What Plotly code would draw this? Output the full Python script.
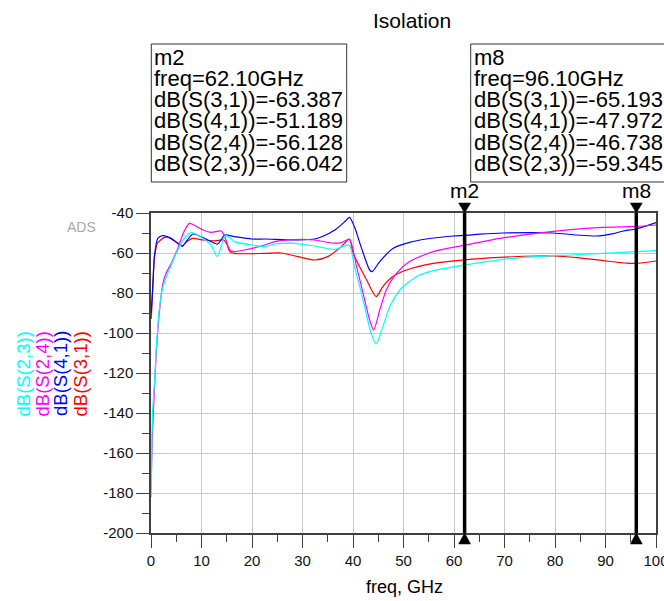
import plotly.graph_objects as go

# ---------------- data ----------------
freq_s31 = [0.05, 0.4, 0.7, 1.3, 2.7, 4.0, 5.3, 6.2, 7.0, 8.3, 10.3, 12.6, 14.4, 15.0, 15.6, 16.5,
            22.5, 25.8, 29.1, 32.4, 35.0, 37.7, 39.3, 40.0, 41.3, 42.7, 44.6, 45.9, 47.9, 50.6,
            55.9, 62.1, 69.1, 76.3, 79.6, 84.3, 89.5, 94.2, 96.1, 100.0]
db_s31 = [-93, -75, -62, -55, -52.2, -52.8, -55, -56.3, -54.5, -52.7, -53.5, -53.9, -53.5, -55.5, -59.3, -60.2,
          -60.2, -60, -61.8, -63.5, -61.8, -56.8, -53, -60, -66.8, -73.5, -81.8, -76.8, -71.8, -68.5,
          -65.2, -63.4, -62.2, -61.5, -61.5, -62.3, -63.8, -65.1, -65.2, -64]

freq_s41 = [0.05, 0.36, 0.7, 1.35, 2.3, 3.7, 5.3, 6.2, 7.2, 8.3, 10.3, 13.2, 14.6, 16.5, 19.9, 22.5,
            32.4, 36.4, 38.5, 39.3, 40.3, 41.7, 43.3, 43.8, 45.3, 47.9, 51.2, 54.5, 59.8, 62.1,
            65.1, 69.7, 79.6, 84.3, 88.2, 91.5, 93.5, 96.1, 100.0]
db_s41 = [-90, -76, -61, -52.7, -51.3, -52.3, -55.2, -56.7, -53.5, -50.5, -52.3, -55.5, -51, -51.8, -53, -53,
          -53, -48.5, -44, -42.2, -47, -57.7, -68.5, -69.3, -64.3, -57.7, -54.7, -53, -51.5, -51.2,
          -50.6, -50, -50, -51, -51.5, -50.3, -49, -48, -44.8]

freq_s24 = [0.05, 0.3, 0.6, 1.0, 1.5, 2.3, 3.0, 4.0, 5.3, 6.5, 7.6, 8.5, 10.3, 11.9, 13.9, 14.6, 15.6,
            16.5, 18.5, 22.5, 24.5, 28.4, 32.4, 35.7, 37.7, 39.3, 40.7, 42.0, 43.3, 44.1, 45.3,
            46.6, 48.6, 51.2, 55.9, 62.1, 69.1, 76.3, 83.0, 89.5, 96.1, 100.0]
db_s24 = [-172, -150, -132, -112, -94, -76, -70, -65.2, -57.7, -49.5, -45.2, -46, -48.5, -49.7, -49, -51.7, -58.5,
          -59.3, -58.5, -56, -54.3, -53.3, -53.5, -55, -54.8, -53.2, -66.8, -80.2, -93.5, -98.5, -88.5,
          -78.5, -70.2, -64.3, -59.3, -56.1, -52.7, -50.2, -48.3, -47.2, -46.7, -46]

freq_s23 = [0.05, 0.2, 0.35, 0.8, 1.05, 1.4, 1.7, 2.2, 2.8, 4.0, 5.3, 6.5, 8.0, 10.3, 11.9, 13.1, 14.6,
            15.2, 16.5, 19.9, 22.5, 24.5, 28.4, 32.4, 36.4, 39.2, 40.3, 42.0, 43.6, 44.6, 45.9,
            47.3, 49.3, 52.6, 55.9, 62.1, 69.7, 76.3, 83.0, 89.5, 96.1, 100.0]
db_s23 = [-182, -150, -138, -120, -107, -95, -87, -78.5, -73.5, -66, -58.5, -53, -49.8, -52.7, -56, -61.8, -51.7,
          -51.5, -54.3, -56, -56.8, -55.5, -55.2, -56.5, -58.2, -56, -66.8, -83.5, -100.2, -105.5, -96.8,
          -86.8, -78.5, -71.8, -68.8, -66, -63.2, -61.8, -61, -60.2, -59.3, -58.8]

series_names = ["dB(S(3,1))", "dB(S(4,1))", "dB(S(2,4))", "dB(S(2,3))"]
series_colors = ["#FF0000", "#0000FF", "#FF00FF", "#00FFFF"]
series_freqs = [freq_s31, freq_s41, freq_s24, freq_s23]
series_dbs = [db_s31, db_s41, db_s24, db_s23]

marker_names = ["m2", "m8"]
marker_freqs = [62.10, 96.10]
marker_vals = [[-63.387, -51.189, -56.128, -66.042],
               [-65.193, -47.972, -46.738, -59.345]]

x_ticks = [0, 10, 20, 30, 40, 50, 60, 70, 80, 90, 100]
y_ticks = [-40, -60, -80, -100, -120, -140, -160, -180, -200]

# ---------------- layout geometry ----------------
W, H = 664, 601
ML, MR, MT, MB = 151, 8, 213, 68
PW, PH = W - ML - MR, H - MT - MB
XR, YR = [0, 100], [-200, -40]
FONT = "Liberation Sans, Arial, sans-serif"


def px2x(px):
    return (px - ML) / PW


def py2y(py):
    return (H - MB - py) / PH


ghz_per_px = (XR[1] - XR[0]) / PW

fig = go.Figure()

for name, col, fr, db in zip(series_names, series_colors, series_freqs, series_dbs):
    fig.add_trace(go.Scatter(x=fr, y=db, mode="lines", name=name,
                             line=dict(color=col, width=1.2, shape="spline", smoothing=0.7),
                             showlegend=False, hoverinfo="skip"))

annotations = []
shapes = []

# marker lines and triangles
for mf in marker_freqs:
    fig.add_trace(go.Scatter(x=[mf, mf], y=[YR[0], YR[1]], mode="lines",
                             line=dict(color="black", width=3.5), showlegend=False,
                             cliponaxis=False, hoverinfo="skip"))
    hw = 6 * ghz_per_px
    top_tip, top_base = 1.0, 1.0 + 10 / PH
    bot_tip, bot_base = 0.0, -11 / PH
    shapes.append(dict(type="path", xref="x", yref="paper",
                       path=f"M {mf - hw} {top_base} L {mf + hw} {top_base} L {mf} {top_tip} Z",
                       fillcolor="black", line=dict(color="black", width=0.5)))
    shapes.append(dict(type="path", xref="x", yref="paper",
                       path=f"M {mf - hw} {bot_base} L {mf + hw} {bot_base} L {mf} {bot_tip} Z",
                       fillcolor="black", line=dict(color="black", width=0.5)))

# title
annotations.append(dict(text="Isolation", x=px2x(412), y=py2y(21), xref="paper", yref="paper",
                        showarrow=False, font=dict(size=21, color="black", family=FONT),
                        xanchor="center", yanchor="middle"))

# marker boxes
box_lefts = [151.3, 470.7]
box_rights = [346.7, 720]
line_centers = [57, 78.5, 99.8, 121, 142.3, 163.5]
for i, (mn, mf, vals) in enumerate(zip(marker_names, marker_freqs, marker_vals)):
    shapes.append(dict(type="rect", xref="paper", yref="paper",
                       x0=px2x(box_lefts[i]), x1=px2x(box_rights[i]),
                       y0=py2y(182), y1=py2y(44),
                       line=dict(color="#333333", width=1), fillcolor="rgba(0,0,0,0)"))
    lines = [mn, "freq=%.2fGHz" % mf] + ["%s=%.3f" % (n, v) for n, v in zip(series_names, vals)]
    for t, yc in zip(lines, line_centers):
        annotations.append(dict(text=t, x=px2x(box_lefts[i] + 1), y=py2y(yc), xref="paper", yref="paper",
                                showarrow=False, xanchor="left", yanchor="middle",
                                font=dict(size=22, color="black", family=FONT)))
    # label above marker
    annotations.append(dict(text=mn, x=mf, xref="x", y=py2y(191), yref="paper", showarrow=False,
                            xanchor="center", yanchor="middle",
                            font=dict(size=21, color="black", family=FONT)))

# y-axis label stack (colored)
ylab_order = [3, 2, 1, 0]
ylab_x = [22.5, 41.5, 60, 79.5]
for k, xc in zip(ylab_order, ylab_x):
    annotations.append(dict(text=series_names[k], x=px2x(xc), y=py2y(374), xref="paper", yref="paper",
                            showarrow=False, textangle=-90, xanchor="center", yanchor="middle",
                            font=dict(size=18.5, color=series_colors[k], family=FONT)))

# ADS watermark
annotations.append(dict(text="ADS", x=px2x(81), y=py2y(227), xref="paper", yref="paper",
                        showarrow=False, xanchor="center", yanchor="middle",
                        font=dict(size=14, color="#A8A8A8", family=FONT)))

# x axis title
annotations.append(dict(text="freq, GHz", x=px2x(404), y=py2y(587), xref="paper", yref="paper",
                        showarrow=False, xanchor="center", yanchor="middle",
                        font=dict(size=18, color="black", family=FONT)))

axis_common = dict(showline=True, mirror=True, linecolor="#404040", linewidth=1.5,
                   showgrid=True, gridcolor="#C8C8C8", gridwidth=1, zeroline=False,
                   ticks="outside", ticklen=13, tickwidth=1, tickcolor="#404040",
                   tickfont=dict(size=15, color="#111111", family=FONT),
                   ticklabeloverflow="allow", automargin=False)

fig.update_layout(
    width=W, height=H,
    margin=dict(l=ML, r=MR, t=MT, b=MB, autoexpand=False),
    paper_bgcolor="white", plot_bgcolor="white",
    xaxis=dict(range=XR, tickvals=x_ticks, ticktext=[str(v) for v in x_ticks],
               minor=dict(dtick=5, ticklen=7, ticks="outside", tickcolor="#404040", showgrid=False),
               **axis_common),
    yaxis=dict(range=YR, tickvals=y_ticks, ticktext=[str(v) for v in y_ticks],
               minor=dict(dtick=10, ticklen=7, ticks="outside", tickcolor="#404040", showgrid=False),
               **axis_common),
    annotations=annotations,
    shapes=shapes,
    showlegend=False,
    hovermode=False,
)

fig.write_html("out.html", config={"displayModeBar": False},
               post_script="document.body.style.margin='0';document.body.style.padding='0';")
